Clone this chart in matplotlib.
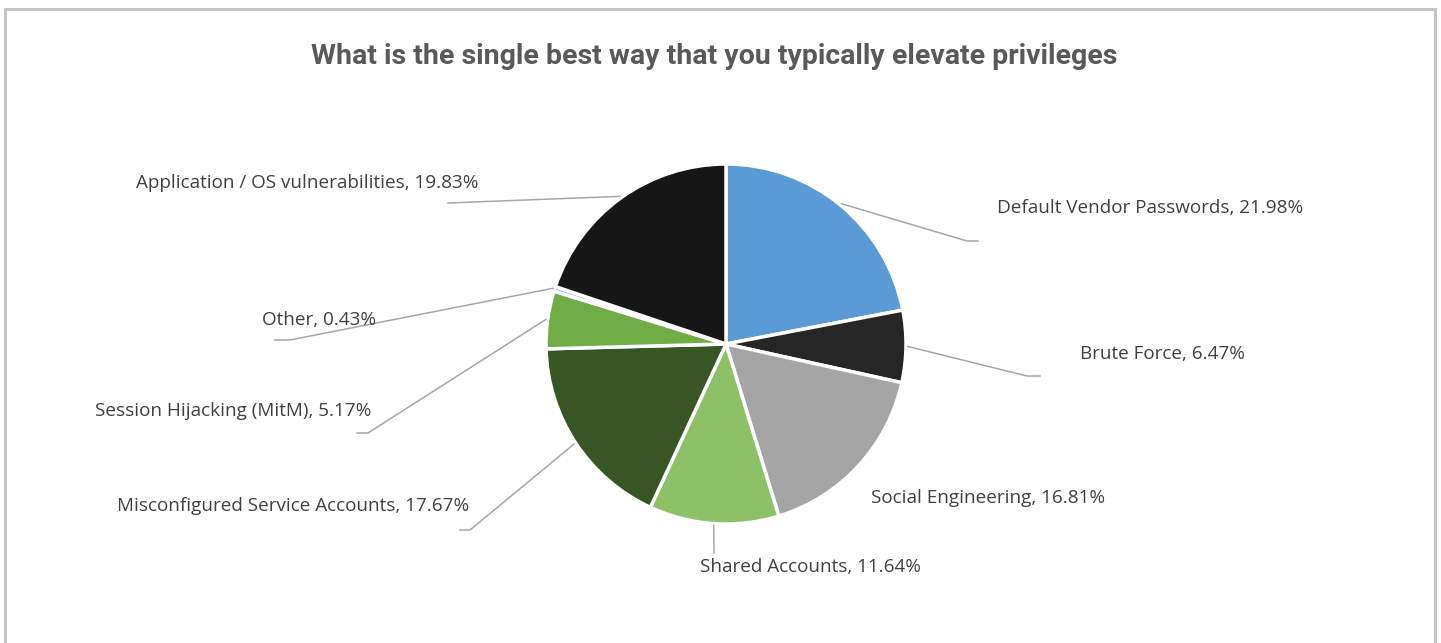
import numpy as np
import matplotlib
matplotlib.use("Agg")
import matplotlib.pyplot as plt
from matplotlib.patches import Rectangle

# ---- data ----
categories = ["Default Vendor Passwords", "Brute Force", "Social Engineering",
              "Shared Accounts", "Misconfigured Service Accounts",
              "Session Hijacking (MitM)", "Other", "Application / OS vulnerabilities"]
values = [21.98, 6.47, 16.81, 11.64, 17.67, 5.17, 0.43, 19.83]
colors = ["#5B9BD5", "#262626", "#A5A5A5", "#8CC168", "#375623",
          "#70AD47", "#9DC3E6", "#161616"]
title = "What is the single best way that you typically elevate privileges"

# ---- layout (pixel space, y measured from top) ----
W, H = 1441, 643
cx, cy, R = 726, 344, 180
label_pos = [(997, 208, "left"), (1080, 354, "left"), (871, 498, "left"),
             (810, 567, "center"), (469, 506, "right"), (371, 411, "right"),
             (376, 320, "right"), (479, 183, "right")]
leaders = [[(967, 241), (978, 241)], [(1027, 376), (1040, 376)], None,
           [(714, 553)], [(470, 530), (460, 530)], [(368, 433), (357, 433)],
           [(290, 340), (275, 340)], [(448, 203)]]


def fy(y):
    return H - y


fig = plt.figure(figsize=(W / 100, H / 100), dpi=100)
ax = fig.add_axes([0, 0, 1, 1])

wedges, _ = ax.pie(values, colors=colors, startangle=90, counterclock=False,
                   center=(cx, fy(cy)), radius=R, frame=True,
                   wedgeprops=dict(edgecolor="white", linewidth=2.5))
ax.set_xlim(0, W)
ax.set_ylim(0, H)
ax.set_aspect("equal")
ax.axis("off")

# border
ax.add_patch(Rectangle((5, fy(9) - 700), 1430, 700, fill=False,
                       edgecolor="#C4C4C4", linewidth=2.2, zorder=0))

for w, cat, val, lp, ld in zip(wedges, categories, values, label_pos, leaders):
    ang = np.deg2rad((w.theta1 + w.theta2) / 2)
    sx = cx + R * 1.01 * np.cos(ang)
    sy = fy(cy) + R * 1.01 * np.sin(ang)
    if ld is not None:
        xs = [sx] + [p[0] for p in ld]
        ys = [sy] + [fy(p[1]) for p in ld]
        ax.plot(xs, ys, color="#A6A6A6", linewidth=1.1, zorder=1)
    ax.text(lp[0], fy(lp[1]), f"{cat}, {val:.2f}%", ha=lp[2], va="center",
            fontsize=13.6, family=["Open Sans", "DejaVu Sans"], color="#404040",
            zorder=3)

ax.text(714, fy(56), title, ha="center", va="center", fontsize=20.5,
        fontweight="bold", family=["Roboto", "DejaVu Sans"], color="#595959")

fig.savefig("out.png", dpi=100)
